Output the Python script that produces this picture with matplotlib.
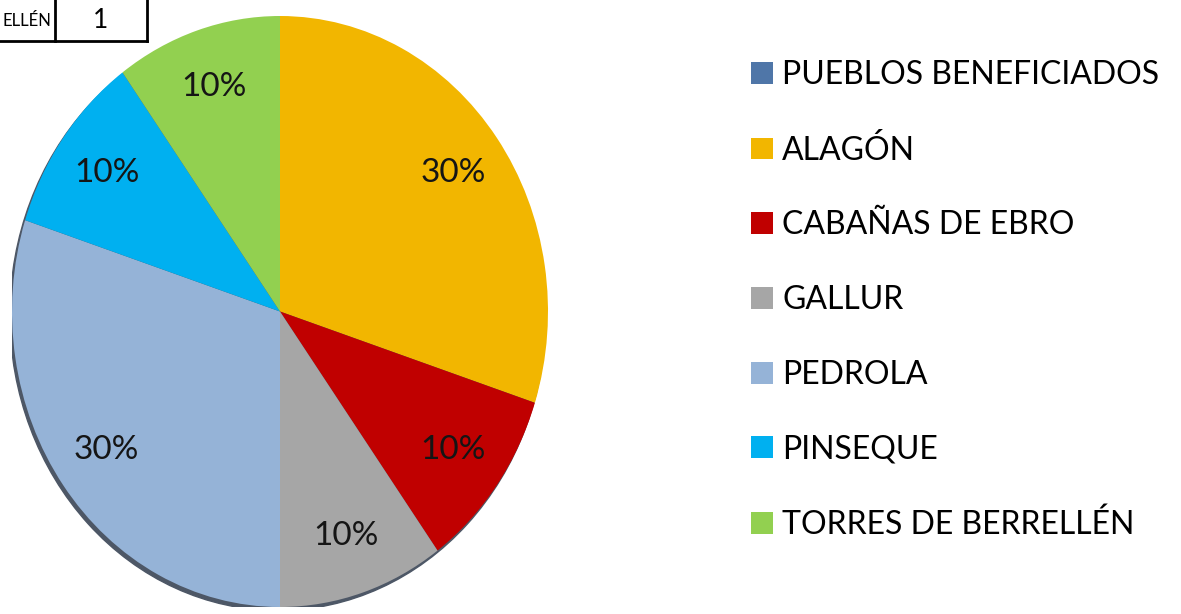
import matplotlib
matplotlib.use("Agg")
import matplotlib.pyplot as plt
from matplotlib.patches import Ellipse

# datos: pueblos y número de actuaciones
pueblos = ["PUEBLOS BENEFICIADOS", "ALAGÓN", "CABAÑAS DE EBRO", "GALLUR",
           "PEDROLA", "PINSEQUE", "TORRES DE BERRELLÉN"]
valores = [0, 3, 1, 1, 3, 1, 1]
colores = ["#4F76A8", "#F2B600", "#C00000", "#A6A6A6",
           "#95B3D7", "#00B0F0", "#92D050"]

# fila visible de la tabla de arriba (recortada en el original)
tabla_nombre = "ELLÉN"
tabla_valor = "1"

fuente = ["Lato", "DejaVu Sans"]

W, H = 1181, 614
fig = plt.figure(figsize=(W / 100, H / 100), dpi=100)

# caja de la tarta (elipse) en píxeles
x0, x1 = 12, 548
y0, y1 = 16, 607
ax = fig.add_axes([x0 / W, (H - y1) / H, (x1 - x0) / W, (y1 - y0) / H])

def etiqueta(p):
    return f"{p:.0f}%" if p > 0 else ""

wedges, textos, pct = ax.pie(
    valores, colors=colores, startangle=90, counterclock=False,
    autopct=etiqueta, pctdistance=0.8, radius=1.0,
    wedgeprops=dict(linewidth=0),
    textprops=dict(fontsize=24, family=fuente, color="#151515"),
)
# sombra bajo la tarta
ax.add_patch(Ellipse((-0.008, -0.012), 2.0, 2.0, color="#4d5766", zorder=0))
ax.set_aspect("auto")
ax.set_xlim(-1, 1)
ax.set_ylim(-1, 1)
ax.axis("off")

# leyenda a la derecha
fig.legend(wedges, pueblos, loc="upper left",
           bbox_to_anchor=(751 / W, 1 - 60 / H),
           frameon=False, prop=dict(family=fuente, size=23),
           handlelength=0.68, handleheight=0.68, handletextpad=0.3,
           labelspacing=1.40, borderpad=0, borderaxespad=0)

# trozo de tabla recortado arriba a la izquierda
fig.text(2 / W, 1 - 21 / H, tabla_nombre, ha="left", va="center",
         fontsize=12, family=fuente)
fig.text(101 / W, 1 - 21 / H, tabla_valor, ha="center", va="center",
         fontsize=19, family=fuente)
fig.add_artist(plt.Line2D([0, 147 / W], [1 - 41 / H, 1 - 41 / H],
                          color="black", lw=2))
for xl in (55, 147):
    fig.add_artist(plt.Line2D([xl / W, xl / W], [1, 1 - 41 / H],
                              color="black", lw=2))

fig.savefig("out.png", dpi=100)
